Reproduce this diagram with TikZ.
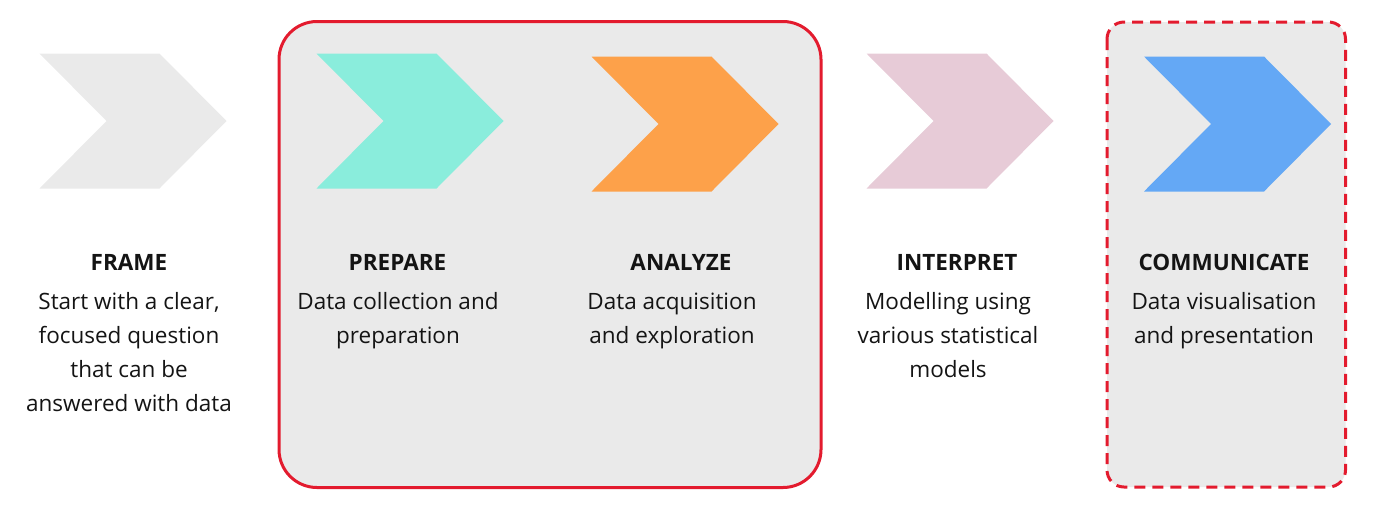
\documentclass[tikz,border=0pt]{standalone}
\usepackage{fontspec}
\setmainfont{Open Sans}
\begin{document}
\definecolor{panel}{HTML}{EAEAEA}
\definecolor{framec}{HTML}{EAEAEA}
\definecolor{preparec}{HTML}{8AEDDC}
\definecolor{analyzec}{HTML}{FDA14A}
\definecolor{interpretc}{HTML}{E7CBD7}
\definecolor{communicatec}{HTML}{64A8F5}
\definecolor{accent}{HTML}{E31B2E}
\definecolor{ink}{HTML}{141414}
\begin{tikzpicture}[x=1pt,y=-1pt,
  title/.style={anchor=base,inner sep=0pt,text=ink,font=\fontsize{22.5}{34}\selectfont\bfseries},
  body/.style={anchor=base,inner sep=0pt,text=ink,font=\fontsize{22.5}{34}\selectfont},
  group/.style={fill=panel,draw=accent,line width=3pt}]
\useasboundingbox (0,0) rectangle (1378,523);
% chevron: left x, top y, fill colour
\newcommand{\chev}[3]{\fill[#3] (#1,#2) -- ++(120,0) -- ++(67,67.5) -- ++(-67,67.5) -- ++(-120,0) -- ++(67,-67.5) -- cycle;}
% grouping panels
\draw[group,rounded corners=38pt] (279,21.5) rectangle (821,487.5);
\draw[group,rounded corners=17pt,dash pattern=on 11pt off 7pt] (1107,22) rectangle (1345.5,487);
% step arrows
\chev{39.5}{53.5}{framec}
\chev{316.5}{53.5}{preparec}
\chev{591.5}{56.5}{analyzec}
\chev{866.5}{53.5}{interpretc}
\chev{1144}{56.5}{communicatec}
% titles
\node[title] (t1) at (129,270) {FRAME};
\node[title] (t2) at (397.5,270) {PREPARE};
\node[title] (t3) at (681,270) {ANALYZE};
\node[title] (t4) at (957,270) {INTERPRET};
\node[title] (t5) at (1224,270) {COMMUNICATE};
% descriptions
\node[body] (b1) at (129,309) {\begin{tabular}[t]{@{}c@{}}Start with a clear,\\focused question\\that can be\\answered with data\end{tabular}};
\node[body] (b2) at (398,309) {\begin{tabular}[t]{@{}c@{}}Data collection and\\preparation\end{tabular}};
\node[body] (b3) at (672,309) {\begin{tabular}[t]{@{}c@{}}Data acquisition\\and exploration\end{tabular}};
\node[body] (b4) at (948,309) {\begin{tabular}[t]{@{}c@{}}Modelling using\\various statistical\\models\end{tabular}};
\node[body] (b5) at (1224,309) {\begin{tabular}[t]{@{}c@{}}Data visualisation\\and presentation\end{tabular}};
\end{tikzpicture}
\end{document}
